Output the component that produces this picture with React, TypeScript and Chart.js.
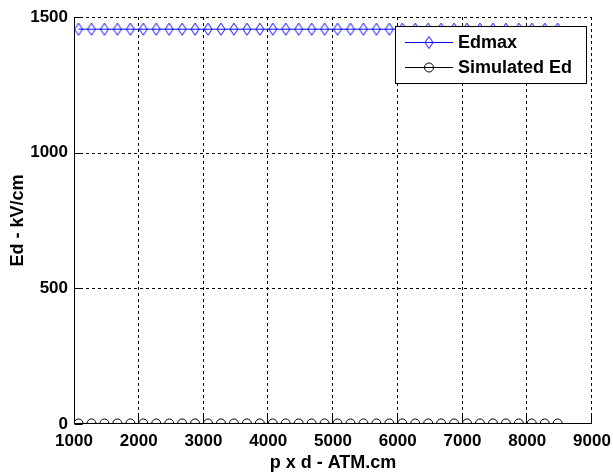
import React, { useEffect, useRef } from "react";
import { Chart, registerables } from "chart.js";

Chart.register(...registerables);

// ---- data ----
const pdValues = [
  1070, 1270, 1470, 1670, 1870, 2070, 2270, 2470, 2670, 2870,
  3070, 3270, 3470, 3670, 3870, 4070, 4270, 4470, 4670, 4870,
  5070, 5270, 5470, 5670, 5870, 6070, 6270, 6470, 6670, 6870,
  7070, 7270, 7470, 7670, 7870, 8070, 8270, 8470,
];
const edmaxValues = [
  1455, 1455, 1455, 1455, 1455, 1455, 1455, 1455, 1455, 1455,
  1455, 1455, 1455, 1455, 1455, 1455, 1455, 1455, 1455, 1455,
  1455, 1455, 1455, 1455, 1455, 1455, 1455, 1455, 1455, 1455,
  1455, 1455, 1455, 1455, 1455, 1455, 1455, 1455,
];
const simulatedEdValues = [
  2, 2, 2, 2, 2, 2, 2, 2, 2, 2,
  2, 2, 2, 2, 2, 2, 2, 2, 2, 2,
  2, 2, 2, 2, 2, 2, 2, 2, 2, 2,
  2, 2, 2, 2, 2, 2, 2, 2,
];
const xTickValues = [1000, 2000, 3000, 4000, 5000, 6000, 7000, 8000, 9000];
const yTickValues = [0, 500, 1000, 1500];
const seriesLabels = ["Edmax", "Simulated Ed"];
const xTitle = "p x d - ATM.cm";
const yTitle = "Ed - kV/cm";

const FONT_FAMILY = "'Liberation Sans', Arial, sans-serif";
const BLUE = "#0000ff";

function makeDiamond(): HTMLCanvasElement {
  const c = document.createElement("canvas");
  c.width = 10;
  c.height = 14;
  const g = c.getContext("2d")!;
  g.strokeStyle = BLUE;
  g.lineWidth = 1;
  g.beginPath();
  g.moveTo(5, 1);
  g.lineTo(9, 7);
  g.lineTo(5, 13);
  g.lineTo(1, 7);
  g.closePath();
  g.stroke();
  return c;
}

export default function App() {
  const ref = useRef<HTMLCanvasElement | null>(null);

  useEffect(() => {
    const canvas = ref.current;
    if (!canvas) return;
    const diamond = makeDiamond();

    const gridPlugin = {
      id: "matlabGrid",
      beforeDatasetsDraw(chart: any) {
        const { ctx, chartArea: a, scales } = chart;
        const xs = scales.x;
        const ys = scales.y;
        ctx.save();
        ctx.strokeStyle = "#000";
        ctx.lineWidth = 1;
        ctx.setLineDash([3, 3]);
        xTickValues.forEach((v, i) => {
          if (i === 0) return;
          const px = Math.round(xs.getPixelForValue(v)) - 0.5;
          ctx.beginPath();
          ctx.moveTo(px, a.top);
          ctx.lineTo(px, a.bottom);
          ctx.stroke();
        });
        yTickValues.forEach((v, i) => {
          if (i === 0) return;
          const py = Math.round(ys.getPixelForValue(v)) + 0.5;
          ctx.beginPath();
          ctx.moveTo(a.left, py);
          ctx.lineTo(a.right, py);
          ctx.stroke();
        });
        ctx.setLineDash([]);
        const left = Math.round(a.left) + 0.5;
        const bottom = Math.round(a.bottom) - 0.5;
        ctx.beginPath();
        ctx.moveTo(left, a.top);
        ctx.lineTo(left, bottom);
        ctx.lineTo(a.right, bottom);
        ctx.stroke();
        // inward tick marks
        xTickValues.forEach((v, i) => {
          const px = i === 0 ? left : Math.round(xs.getPixelForValue(v)) - 0.5;
          ctx.beginPath();
          ctx.moveTo(px, bottom);
          ctx.lineTo(px, bottom - 8);
          ctx.stroke();
        });
        yTickValues.forEach((v) => {
          const py = Math.round(ys.getPixelForValue(v)) + 0.5;
          ctx.beginPath();
          ctx.moveTo(left, py);
          ctx.lineTo(left + 8, py);
          ctx.stroke();
        });
        ctx.restore();
      },
    };

    const legendPlugin = {
      id: "matlabLegend",
      afterDraw(chart: any) {
        const { ctx } = chart;
        ctx.save();
        const bx = 395.5, by = 26.5, bw = 191, bh = 57;
        ctx.fillStyle = "#fff";
        ctx.fillRect(bx, by, bw, bh);
        ctx.strokeStyle = "#000";
        ctx.lineWidth = 1;
        ctx.strokeRect(bx, by, bw, bh);
        const rows = [42, 67];
        const colors = [BLUE, "#000"];
        rows.forEach((ry, i) => {
          const y = ry + 0.5;
          ctx.strokeStyle = colors[i];
          ctx.beginPath();
          ctx.moveTo(405, y);
          ctx.lineTo(453, y);
          ctx.stroke();
          if (i === 0) {
            ctx.drawImage(diamond, 429 - 5, ry - 6.5);
          } else {
            ctx.beginPath();
            ctx.arc(429, y, 4.5, 0, Math.PI * 2);
            ctx.stroke();
          }
          ctx.fillStyle = "#000";
          ctx.font = `bold 18px ${FONT_FAMILY}`;
          ctx.textBaseline = "middle";
          ctx.textAlign = "left";
          ctx.fillText(seriesLabels[i], 458, y + 1);
        });
        ctx.restore();
      },
    };

    const tickFont = { family: FONT_FAMILY, size: 17, weight: "bold" as const };
    const titleFont = { family: FONT_FAMILY, size: 18, weight: "bold" as const };

    const chart = new Chart(canvas, {
      type: "line",
      data: {
        datasets: [
          {
            label: seriesLabels[0],
            data: pdValues.map((x, i) => ({ x, y: edmaxValues[i] })),
            borderColor: BLUE,
            borderWidth: 1,
            backgroundColor: "transparent",
            pointStyle: diamond as any,
            pointRadius: 5,
            pointBorderColor: BLUE,
            pointBackgroundColor: "transparent",
            tension: 0,
          },
          {
            label: seriesLabels[1],
            data: pdValues.map((x, i) => ({ x, y: simulatedEdValues[i] })),
            borderColor: "#000",
            borderWidth: 1,
            backgroundColor: "transparent",
            pointStyle: "circle",
            pointRadius: 4.5,
            pointBorderWidth: 1,
            pointBorderColor: "#000",
            pointBackgroundColor: "transparent",
            tension: 0,
          },
        ],
      },
      options: {
        responsive: false,
        animation: false,
        layout: { padding: { top: 17, right: 21, left: 0, bottom: 0 } },
        plugins: {
          legend: { display: false },
          tooltip: { enabled: false },
        },
        scales: {
          x: {
            type: "linear",
            min: 1000,
            max: 9000,
            afterFit: (s: any) => {
              s.height = 50;
              s.paddingLeft = 0;
              s.paddingRight = 0;
            },
            afterBuildTicks: (s: any) => {
              s.ticks = xTickValues.map((v) => ({ value: v }));
            },
            ticks: {
              font: tickFont,
              color: "#000",
              padding: 7,
              maxRotation: 0,
              autoSkip: false,
              callback: (v: any) => String(v),
            },
            grid: { display: false, drawTicks: false },
            border: { display: false },
            title: {
              display: true,
              text: xTitle,
              font: titleFont,
              color: "#000",
              padding: { top: 0, bottom: 0 },
            },
          },
          y: {
            type: "linear",
            min: 0,
            max: 1500,
            afterFit: (s: any) => {
              s.width = 74;
              s.paddingTop = 0;
              s.paddingBottom = 0;
            },
            afterBuildTicks: (s: any) => {
              s.ticks = yTickValues.map((v) => ({ value: v }));
            },
            ticks: {
              font: tickFont,
              color: "#000",
              padding: 6,
              autoSkip: false,
              callback: (v: any) => String(v),
            },
            grid: { display: false, drawTicks: false },
            border: { display: false },
            title: {
              display: true,
              text: yTitle,
              font: titleFont,
              color: "#000",
              padding: { top: 7, bottom: 0 },
            },
          },
        },
      },
      plugins: [gridPlugin, legendPlugin],
    });

    return () => chart.destroy();
  }, []);

  return (
    <div style={{ position: "fixed", left: 0, top: 0, width: 613, height: 474, background: "#fff" }}>
      <canvas ref={ref} width={613} height={474} style={{ width: 613, height: 474, display: "block" }} />
    </div>
  );
}
